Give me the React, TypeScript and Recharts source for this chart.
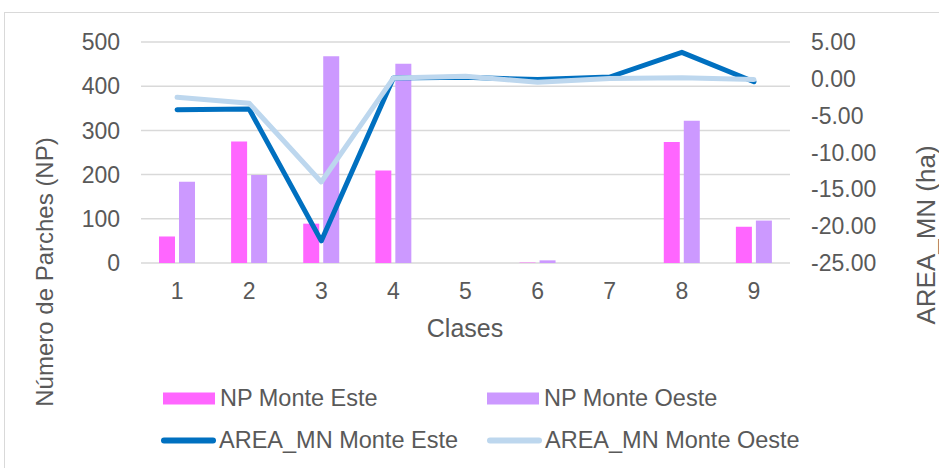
import React from 'react';
import { ComposedChart, Bar, Line, XAxis, YAxis, CartesianGrid } from 'recharts';

const clases = ['1', '2', '3', '4', '5', '6', '7', '8', '9'];
const npEste = [60, 275, 89, 209, 0, 1, 0, 274, 82];
const npOeste = [184, 199, 468, 451, 0, 6, 0, 322, 96];
const areaEste = [-4.2, -4.1, -22.0, 0.1, 0.2, -0.1, 0.25, 3.6, -0.4];
const areaOeste = [-2.5, -3.3, -14.0, 0.1, 0.35, -0.45, 0.05, 0.15, -0.1];
const leftTicks = [0, 100, 200, 300, 400, 500];
const rightTicks = [-25, -20, -15, -10, -5, 0, 5];

const barSeries = [
  { key: 'npEste', name: 'NP Monte Este', color: '#FF66FF' },
  { key: 'npOeste', name: 'NP Monte Oeste', color: '#CC99FF' },
];
const lineSeries = [
  { key: 'areaEste', name: 'AREA_MN Monte Este', color: '#0070C0' },
  { key: 'areaOeste', name: 'AREA_MN Monte Oeste', color: '#BDD7EE' },
];

const data = clases.map((c, i) => ({
  clase: c,
  npEste: npEste[i],
  npOeste: npOeste[i],
  areaEste: areaEste[i],
  areaOeste: areaOeste[i],
}));

const FONT = '"Liberation Sans", Arial, sans-serif';
const TEXT = '#595959';
const tick = { fill: TEXT, fontSize: 23, fontFamily: FONT };

export default function App() {
  return (
    <div
      style={{
        position: 'absolute',
        left: 0,
        top: 0,
        width: 939,
        height: 468,
        overflow: 'hidden',
        background: '#fff',
        fontFamily: FONT,
        color: TEXT,
      }}
    >
      <div
        style={{
          position: 'absolute',
          left: 4,
          top: 12,
          width: 960,
          height: 480,
          border: '1px solid #D9D9D9',
          boxSizing: 'border-box',
        }}
      />
      <div style={{ position: 'absolute', left: 0, top: 0 }}>
        <ComposedChart
          width={939}
          height={468}
          data={data}
          margin={{ top: 42, right: 0, bottom: 175, left: 0 }}
          barSize={16}
          barGap={4}
        >
          <CartesianGrid yAxisId="left" vertical={false} stroke="#D9D9D9" strokeWidth={1.5} />
          <XAxis
            dataKey="clase"
            axisLine={false}
            tickLine={false}
            tickSize={0}
            tickMargin={20}
            height={30}
            tick={tick}
          />
          <YAxis
            yAxisId="left"
            orientation="left"
            width={141}
            domain={[0, 500]}
            ticks={leftTicks}
            axisLine={false}
            tickLine={false}
            tickSize={0}
            tickMargin={21}
            tick={tick}
          />
          <YAxis
            yAxisId="right"
            orientation="right"
            width={149}
            domain={[-25, 5]}
            ticks={rightTicks}
            axisLine={false}
            tickLine={false}
            tickSize={0}
            tickMargin={21}
            tick={tick}
            tickFormatter={(v: number) => v.toFixed(2)}
          />
          {barSeries.map((s) => (
            <Bar
              key={s.key}
              yAxisId="left"
              dataKey={s.key}
              name={s.name}
              fill={s.color}
              isAnimationActive={false}
            />
          ))}
          {lineSeries.map((s) => (
            <Line
              key={s.key}
              yAxisId="right"
              type="linear"
              dataKey={s.key}
              name={s.name}
              stroke={s.color}
              strokeWidth={5}
              strokeLinecap="round"
              strokeLinejoin="round"
              dot={false}
              activeDot={false}
              isAnimationActive={false}
            />
          ))}
        </ComposedChart>
      </div>

      <div
        style={{
          position: 'absolute',
          left: 45,
          top: 272,
          transform: 'translate(-50%, -50%) rotate(-90deg)',
          whiteSpace: 'nowrap',
          fontSize: 24,
        }}
      >
        Número de Parches (NP)
      </div>
      <div
        style={{
          position: 'absolute',
          left: 926,
          top: 235,
          transform: 'translate(-50%, -50%) rotate(-90deg)',
          whiteSpace: 'nowrap',
          fontSize: 26,
        }}
      >
        AREA_MN (ha)
      </div>
      <div
        style={{
          position: 'absolute',
          left: 465,
          top: 328,
          transform: 'translate(-50%, -50%)',
          whiteSpace: 'nowrap',
          fontSize: 25,
        }}
      >
        Clases
      </div>

      {barSeries.map((s, i) => (
        <div
          key={s.key}
          style={{
            position: 'absolute',
            left: 163 + i * 324,
            top: 398,
            transform: 'translateY(-50%)',
            display: 'flex',
            alignItems: 'center',
            whiteSpace: 'nowrap',
            fontSize: 23.5,
          }}
        >
          <span style={{ display: 'inline-block', width: 52, height: 12, background: s.color, marginRight: 5 }} />
          {s.name}
        </div>
      ))}
      {lineSeries.map((s, i) => (
        <div
          key={s.key}
          style={{
            position: 'absolute',
            left: 161 + i * 326,
            top: 440,
            transform: 'translateY(-50%)',
            display: 'flex',
            alignItems: 'center',
            whiteSpace: 'nowrap',
            fontSize: 23.5,
          }}
        >
          <span
            style={{ display: 'inline-block', width: 55, height: 6, borderRadius: 3, background: s.color, marginRight: 3 }}
          />
          {s.name}
        </div>
      ))}
    </div>
  );
}
